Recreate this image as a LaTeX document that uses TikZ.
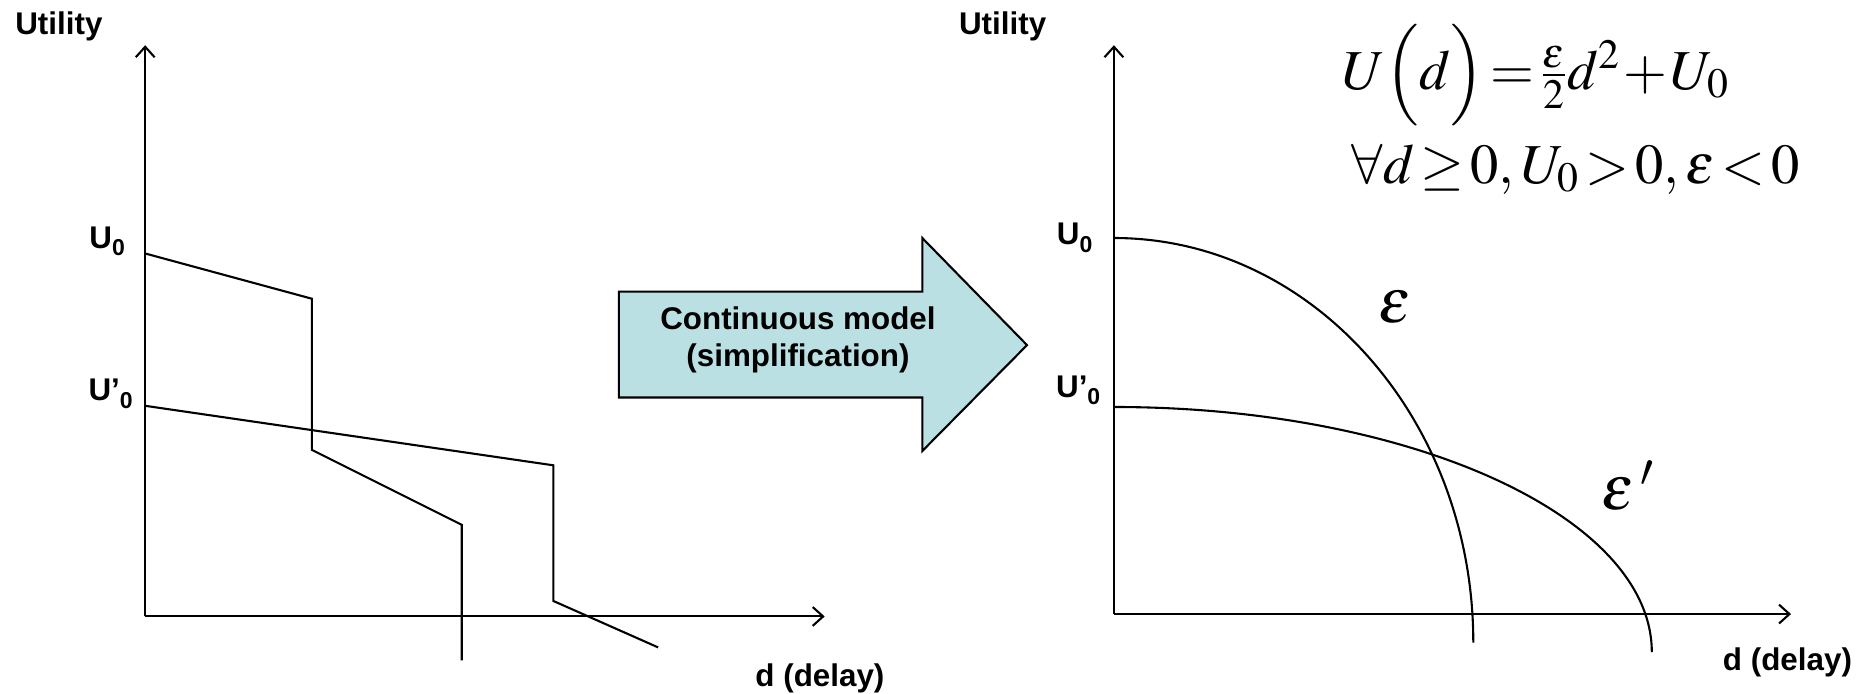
\documentclass[tikz,border=0pt]{standalone}
\usepackage{amsmath}
\usepackage{mathptmx}
\usepackage[no-math]{fontspec}
\setmainfont{Liberation Sans}
\usetikzlibrary{arrows.meta}
\definecolor{arrowfill}{RGB}{187,224,227}
\newcommand{\subzero}{\raisebox{-0.45ex}{\fontsize{11}{11}\selectfont 0}}
\tikzset{
  axislabel/.style={inner sep=0pt,font=\bfseries\fontsize{15}{17.6}\selectfont},
  bigmath/.style={inner sep=0pt,font=\fontsize{27}{32}\selectfont}
}
\begin{document}
\begin{tikzpicture}[>={Straight Barb[length=5pt,width=9pt]},line width=1pt]
                \useasboundingbox (0,0) rectangle (31.36,11.66);
                % stepwise utility
                \coordinate (o1) at (2.44,1.30);
                \draw[->] (o1)--(2.44,10.90);
                \draw[->] (o1)--(13.86,1.30);
                \node[axislabel,anchor=west] (util1) at (0.24,11.22) {Utility};
                \node[axislabel] (delay1) at (13.78,0.26) {d (delay)};
                \node[axislabel] (u1) at (1.80,7.60) {U\subzero};
                \node[axislabel] (v1) at (1.86,5.04) {U’\subzero};
                \draw (2.44,7.40)--(5.24,6.64)--(5.24,4.10)--(7.76,2.84)--(7.76,0.56);
                \draw (2.44,4.84)--(9.30,3.84)--(9.30,1.56)--(11.06,0.78);
                % the big arrow
                \draw[fill=arrowfill] (10.40,6.76)--(15.50,6.76)--(15.50,7.66)--(17.26,5.86)
                    --(15.50,4.08)--(15.50,4.98)--(10.40,4.98)--cycle;
                \node[axislabel,align=center] (simp) at (13.41,5.95) {Continuous model\\(simplification)};
                % continuous model
                \coordinate (o2) at (18.72,1.34);
                \draw[->] (o2)--(18.72,10.90);
                \draw[->] (o2)--(30.10,1.34);
                \node[axislabel,anchor=west] (util2) at (16.10,11.22) {Utility};
                \node[axislabel] (delay2) at (30.04,0.52) {d (delay)};
                \node[axislabel] (u2) at (18.06,7.66) {U\subzero};
                \node[axislabel] (v2) at (18.12,5.10) {U’\subzero};
                \draw (18.72,7.66) arc[start angle=90,end angle=0,x radius=6.04,y radius=6.8];
                \draw (18.72,4.82) arc[start angle=90,end angle=0,x radius=9.04,y radius=4.12];
                \node[bigmath,font=\fontsize{30}{36}\selectfont] (eps) at (23.44,6.50) {$\varepsilon$};
                \node[bigmath,font=\fontsize{30}{36}\selectfont] (epsp) at (27.36,3.50) {$\varepsilon\,'$};
                % tight spacing as in an equation editor
                \node[bigmath,anchor=base west] (f1) at (22.54,10.16)
                    {$\thickmuskip=2mu\medmuskip=1mu U\Bigl(d\Bigr)=\tfrac{\varepsilon}{2}d^2+U_0$};
                \node[bigmath,anchor=base west] (f2) at (22.70,8.58)
                    {$\thickmuskip=2mu\medmuskip=1mu \forall d\geq 0,U_0>0,\varepsilon<0$};
            \end{tikzpicture}
\end{document}
